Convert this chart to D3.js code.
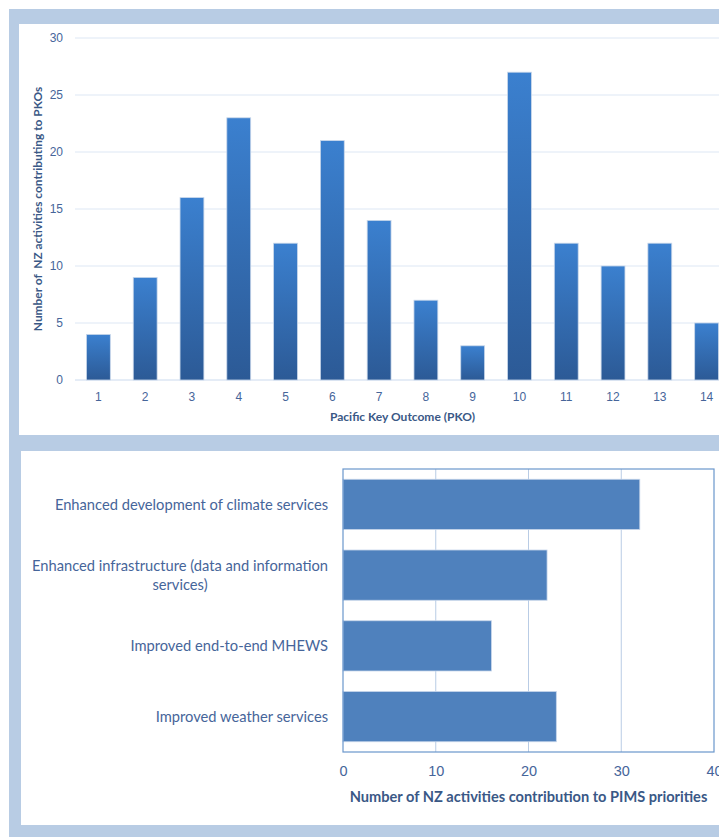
<!DOCTYPE html>
<html>
<head>
<meta charset="utf-8">
<script src="https://cdn.jsdelivr.net/npm/d3@7"></script>
<style>
  body { margin: 0; background: #fff; }
  svg { display: block; font-family: Lato, "Open Sans", sans-serif; }
</style>
</head>
<body>
<div id="chart"></div>
<script>
// top chart: activities per Pacific Key Outcome
const pkoLabels = ['1','2','3','4','5','6','7','8','9','10','11','12','13','14'];
const pkoCounts = [4, 9, 16, 23, 12, 21, 14, 7, 3, 27, 12, 10, 12, 5];
const pkoTicks = [0, 5, 10, 15, 20, 25, 30];

// bottom chart: activities per PIMS priority
const pimsLabels = [
    ['Enhanced development of climate services'],
    ['Enhanced infrastructure (data and information', 'services)'],
    ['Improved end-to-end MHEWS'],
    ['Improved weather services']
];
const pimsCounts = [32, 22, 16, 23];
const pimsTicks = [0, 10, 20, 30, 40];

const W = 719, H = 837;
const textColor = '#46659a';
const titleColor = '#3a5886';

const svg = d3.select('#chart').append('svg')
    .attr('width', W)
    .attr('height', H);

const defs = svg.append('defs');
const grad = defs.append('linearGradient')
    .attr('id', 'barGrad')
    .attr('x1', 0).attr('y1', 0).attr('x2', 0).attr('y2', 1);
grad.append('stop').attr('offset', '0%').attr('stop-color', '#3b80cf');
grad.append('stop').attr('offset', '100%').attr('stop-color', '#2c5a96');

// frame
svg.append('rect').attr('x', 9).attr('y', 9).attr('width', W - 9).attr('height', H - 9).attr('fill', '#b8cce4');
svg.append('rect').attr('x', 19).attr('y', 24).attr('width', W - 19).attr('height', 411).attr('fill', '#fff');
svg.append('rect').attr('x', 21).attr('y', 451).attr('width', W - 21).attr('height', 374).attr('fill', '#fff');

// ---------- top chart ----------
const topBox = {left: 75, right: 730, top: 38, bottom: 380};

const xTop = d3.scaleBand()
    .domain(pkoLabels)
    .range([topBox.left, topBox.right])
    .paddingInner(0.49)
    .paddingOuter(0.245);

const yTop = d3.scaleLinear()
    .domain([0, 30])
    .range([topBox.bottom, topBox.top]);

const gTop = svg.append('g');

gTop.append('g')
    .selectAll('line')
    .data(pkoTicks)
    .enter().append('line')
    .attr('x1', topBox.left)
    .attr('x2', W)
    .attr('y1', d => yTop(d))
    .attr('y2', d => yTop(d))
    .attr('stroke', d => d === 0 ? '#cbdaee' : '#dde7f4')
    .attr('stroke-width', 1);

gTop.append('g')
    .selectAll('rect')
    .data(pkoCounts)
    .enter().append('rect')
    .attr('x', (d, i) => xTop(pkoLabels[i]))
    .attr('width', xTop.bandwidth())
    .attr('y', d => yTop(d))
    .attr('height', d => yTop(0) - yTop(d))
    .attr('fill', 'url(#barGrad)')
    .attr('stroke', '#c9d7ea')
    .attr('stroke-width', 0.8);

const yAxisTop = d3.axisLeft(yTop)
    .tickValues(pkoTicks)
    .tickSize(0)
    .tickPadding(12);

gTop.append('g')
    .attr('transform', 'translate(' + topBox.left + ',0)')
    .call(yAxisTop)
    .call(g => g.select('.domain').remove())
    .selectAll('text')
    .attr('fill', textColor)
    .style('font-size', '12px');

const xAxisTop = d3.axisBottom(xTop)
    .tickSize(0)
    .tickPadding(12);

gTop.append('g')
    .attr('transform', 'translate(0,' + topBox.bottom + ')')
    .call(xAxisTop)
    .call(g => g.select('.domain').remove())
    .selectAll('text')
    .attr('fill', textColor)
    .style('font-size', '12px');

gTop.append('text')
    .attr('x', (topBox.left + topBox.right) / 2)
    .attr('y', 421)
    .attr('text-anchor', 'middle')
    .attr('fill', titleColor)
    .style('font-size', '12px')
    .style('font-weight', 'bold')
    .text('Pacific Key Outcome (PKO)');

gTop.append('text')
    .attr('transform', 'translate(42,' + 209 + ')rotate(-90)')
    .attr('text-anchor', 'middle')
    .attr('fill', titleColor)
    .style('font-size', '11.9px')
    .style('font-weight', 'bold')
    .style('white-space', 'pre')
    .text('Number of  NZ activities contributing to PKOs');

// ---------- bottom chart ----------
const botBox = {left: 343, right: 714, top: 469, bottom: 752};

const xBot = d3.scaleLinear()
    .domain([0, 40])
    .range([botBox.left, botBox.right]);

const yBot = d3.scaleBand()
    .domain(d3.range(pimsCounts.length))
    .range([botBox.top, botBox.bottom])
    .paddingInner(0.29)
    .paddingOuter(0.145);

const gBot = svg.append('g');

gBot.append('g')
    .selectAll('line')
    .data(pimsTicks.slice(1, -1))
    .enter().append('line')
    .attr('x1', d => xBot(d))
    .attr('x2', d => xBot(d))
    .attr('y1', botBox.top)
    .attr('y2', botBox.bottom)
    .attr('stroke', '#b9cce5')
    .attr('stroke-width', 1);

gBot.append('g')
    .selectAll('rect')
    .data(pimsCounts)
    .enter().append('rect')
    .attr('x', xBot(0))
    .attr('y', (d, i) => yBot(i))
    .attr('width', d => xBot(d) - xBot(0))
    .attr('height', yBot.bandwidth())
    .attr('fill', '#4f81bd')
    .attr('stroke', '#c6d5ea')
    .attr('stroke-width', 0.8);

gBot.append('rect')
    .attr('x', botBox.left)
    .attr('y', botBox.top)
    .attr('width', botBox.right - botBox.left)
    .attr('height', botBox.bottom - botBox.top)
    .attr('fill', 'none')
    .attr('stroke', '#6a97cc')
    .attr('stroke-width', 1.2);

const xAxisBot = d3.axisBottom(xBot)
    .tickValues(pimsTicks)
    .tickSize(0)
    .tickPadding(14);

gBot.append('g')
    .attr('transform', 'translate(0,' + botBox.bottom + ')')
    .call(xAxisBot)
    .call(g => g.select('.domain').remove())
    .selectAll('text')
    .attr('fill', textColor)
    .style('font-size', '14.5px');

gBot.append('text')
    .attr('x', (botBox.left + botBox.right) / 2)
    .attr('y', 802)
    .attr('text-anchor', 'middle')
    .attr('fill', titleColor)
    .style('font-size', '14.6px')
    .style('font-weight', 'bold')
    .text('Number of NZ activities contribution to PIMS priorities');

// category labels: block right-aligned, lines centred within block
const labelRight = 328;
const catGroups = gBot.append('g')
    .selectAll('g')
    .data(pimsLabels)
    .enter().append('g');

catGroups.each(function(lines, i) {
    const g = d3.select(this);
    const cy = yBot(i) + yBot.bandwidth() / 2;
    const lh = 19;
    const texts = g.selectAll('text')
        .data(lines)
        .enter().append('text')
        .attr('y', (d, j) => cy + (j - (lines.length - 1) / 2) * lh)
        .attr('dy', '0.35em')
        .attr('text-anchor', 'middle')
        .attr('fill', textColor)
        .style('font-size', '14.7px')
        .text(d => d);
    let maxW = 0;
    texts.each(function() { maxW = Math.max(maxW, this.getComputedTextLength()); });
    texts.attr('x', labelRight - maxW / 2);
});
</script>
</body>
</html>
